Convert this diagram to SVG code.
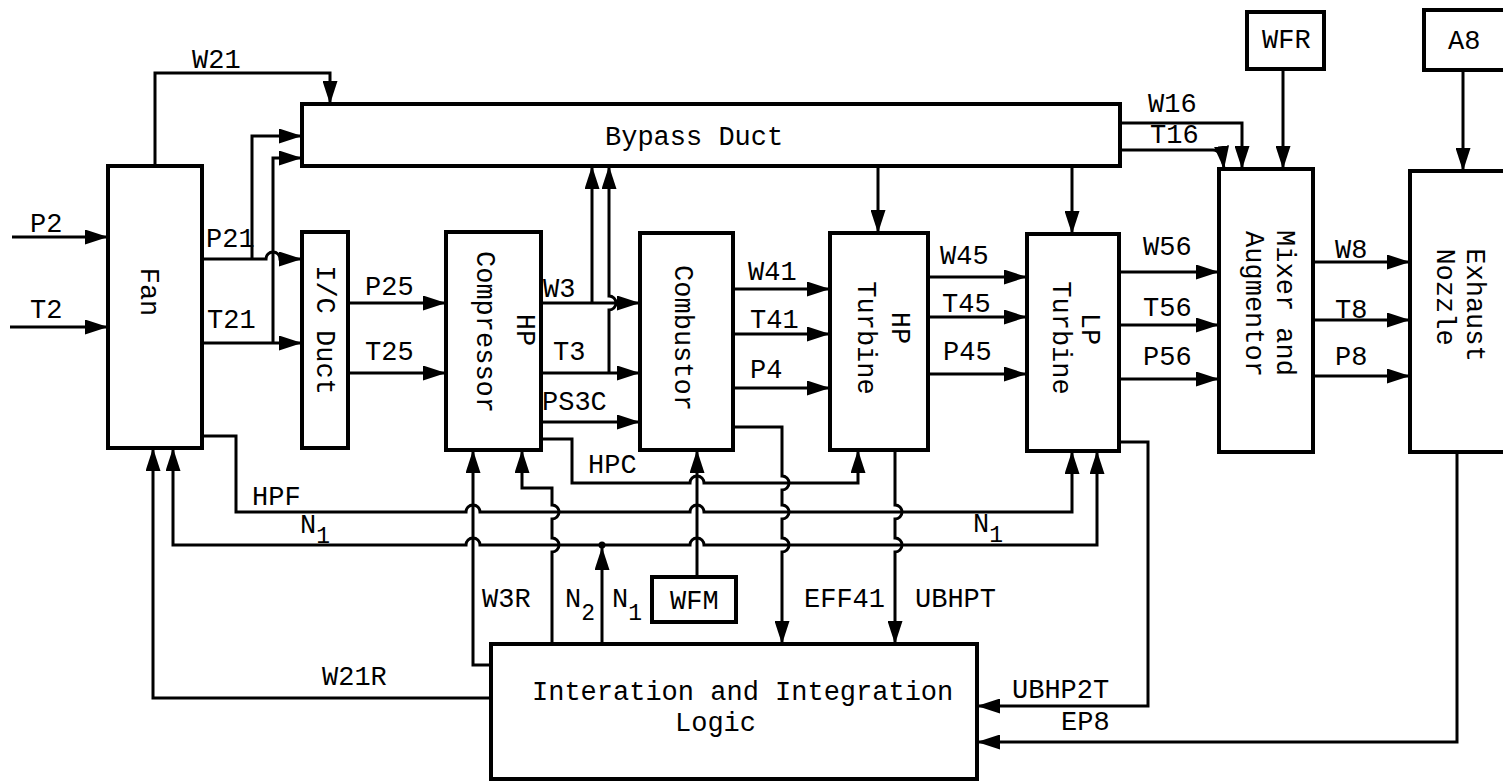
<svg xmlns="http://www.w3.org/2000/svg" width="1503" height="783" viewBox="0 0 1503 783">
<style>
.box{fill:#fff;stroke:#000;stroke-width:4}
.ln{fill:none;stroke:#000;stroke-width:3}
.ar{fill:none;stroke:#000;stroke-width:3;marker-end:url(#ah)}
text{font-family:"Liberation Mono","DejaVu Sans Mono",monospace;font-size:27px;fill:#000}
.sub{font-size:23px}
</style>
<defs>
<marker id="ah" markerUnits="userSpaceOnUse" markerWidth="23" markerHeight="15" refX="23" refY="7.5" orient="auto">
<path d="M0,0 L23,7.5 L0,15 z" fill="#000"/>
</marker>
</defs>
<rect width="1503" height="783" fill="#fff"/>

<g id="connectors">
<path class="ar" d="M12,237 H108"/>
<path class="ar" d="M10,327 H108"/>
<path class="ar" d="M155,166 V73 H330 V104"/>
<path class="ar" d="M202,259 H266 A7,7 0 0 1 280,259 H302"/>
<path class="ar" d="M252,259 V136 H302"/>
<path class="ar" d="M202,343 H302"/>
<path class="ar" d="M273,343 V158 H302"/>
<path class="ar" d="M348,303 H446"/>
<path class="ar" d="M348,373 H446"/>
<path class="ar" d="M541,303 H640"/>
<path class="ar" d="M592,303 V166"/>
<path class="ar" d="M541,373 H640"/>
<path class="ar" d="M609,373 V310 A7,7 0 0 0 609,296 V166"/>
<path class="ar" d="M541,422 H640"/>
<path class="ar" d="M733,289 H830"/>
<path class="ar" d="M733,334 H830"/>
<path class="ar" d="M733,388 H830"/>
<path class="ar" d="M878,166 V233"/>
<path class="ar" d="M1072,166 V234"/>
<path class="ar" d="M928,277 H1027"/>
<path class="ar" d="M928,317 H1027"/>
<path class="ar" d="M928,374 H1027"/>
<path class="ar" d="M1119,272 H1219"/>
<path class="ar" d="M1119,325 H1219"/>
<path class="ar" d="M1119,379 H1219"/>
<path class="ar" d="M1313,262 H1410"/>
<path class="ar" d="M1313,320 H1410"/>
<path class="ar" d="M1313,376 H1410"/>
<path class="ar" d="M1120,123 H1242 V169"/>
<path class="ar" d="M1120,150 H1213 Q1222,150 1224,169"/>
<path class="ar" d="M1283,69 V169"/>
<path class="ar" d="M1463,70 V171"/>
<path class="ar" d="M541,439 H572 V483 H690 A7,7 0 0 1 704,483 H858 V450"/>
<path class="ar" d="M697,577 V450"/>
<path class="ar" d="M202,436 H236 V512 H466 A7,7 0 0 1 480,512 H690 A7,7 0 0 1 704,512 H1072 V451"/>
<path class="ar" d="M602,545 H690 A7,7 0 0 1 704,545 H1097 V451"/>
<path class="ar" d="M602,545 H480 A7,7 0 0 0 466,545 H173 V448"/>
<path class="ar" d="M602,644 V547"/>
<circle cx="602" cy="545" r="3.5" fill="#000"/>
<path class="ar" d="M491,665 H473 V450"/>
<path class="ar" d="M552,644 V552 A7,7 0 0 0 552,538 V519 A7,7 0 0 0 552,505 V488 H522 V450"/>
<path class="ar" d="M733,427 H782 V476 A7,7 0 0 1 782,490 V505 A7,7 0 0 1 782,519 V538 A7,7 0 0 1 782,552 V644"/>
<path class="ar" d="M895,450 V505 A7,7 0 0 1 895,519 V538 A7,7 0 0 1 895,552 V644"/>
<path class="ar" d="M1119,442 H1148 V706 H977"/>
<path class="ar" d="M1457,452 V742 H977"/>
<path class="ar" d="M491,698 H153 V448"/>
</g>

<g id="labels">
<text x="192" y="68">W21</text>
<text x="30" y="232">P2</text>
<text x="30" y="318">T2</text>
<text x="206" y="247">P21</text>
<text x="207" y="328">T21</text>
<text x="365" y="295">P25</text>
<text x="365" y="360">T25</text>
<text x="543" y="297">W3</text>
<text x="553" y="360">T3</text>
<text x="542" y="410">PS3C</text>
<text x="748" y="280">W41</text>
<text x="750" y="328">T41</text>
<text x="750" y="378">P4</text>
<text x="940" y="264">W45</text>
<text x="942" y="312">T45</text>
<text x="943" y="360">P45</text>
<text x="1148" y="112">W16</text>
<text x="1150" y="143">T16</text>
<text x="1143" y="255">W56</text>
<text x="1143" y="316">T56</text>
<text x="1143" y="365">P56</text>
<text x="1335" y="258">W8</text>
<text x="1335" y="318">T8</text>
<text x="1335" y="365">P8</text>
<text x="588" y="473">HPC</text>
<text x="252" y="505">HPF</text>
<text x="300" y="533">N<tspan class="sub" dy="10">1</tspan></text>
<text x="973" y="532">N<tspan class="sub" dy="10">1</tspan></text>
<text x="482" y="607">W3R</text>
<text x="565" y="607">N<tspan class="sub" dy="13">2</tspan></text>
<text x="612" y="607">N<tspan class="sub" dy="13">1</tspan></text>
<text x="804" y="607">EFF41</text>
<text x="915" y="607">UBHPT</text>
<text x="322" y="685">W21R</text>
<text x="1012" y="698">UBHP2T</text>
<text x="1061" y="730">EP8</text>
</g>

<g id="fan"><rect class="box" x="108" y="166" width="94" height="282"/><text transform="translate(141,292) rotate(90)" text-anchor="middle">Fan</text></g>
<g id="bypass"><rect class="box" x="302" y="104" width="818" height="62"/><text x="605" y="145">Bypass Duct</text></g>
<g id="icduct"><rect class="box" x="302" y="232" width="46" height="216"/><text transform="translate(317,330) rotate(90)" text-anchor="middle">I/C Duct</text></g>
<g id="hpc"><rect class="box" x="446" y="232" width="95" height="218"/><text transform="translate(517,330) rotate(90)" text-anchor="middle">HP</text><text transform="translate(477,332) rotate(90)" text-anchor="middle">Compressor</text></g>
<g id="combustor"><rect class="box" x="640" y="233" width="93" height="217"/><text transform="translate(675,338) rotate(90)" text-anchor="middle">Combustor</text></g>
<g id="hpt"><rect class="box" x="830" y="233" width="98" height="217"/><text transform="translate(892,328) rotate(90)" text-anchor="middle">HP</text><text transform="translate(858,338) rotate(90)" text-anchor="middle">Turbine</text></g>
<g id="lpt"><rect class="box" x="1027" y="234" width="92" height="217"/><text transform="translate(1082,329) rotate(90)" text-anchor="middle">LP</text><text transform="translate(1053,338) rotate(90)" text-anchor="middle">Turbine</text></g>
<g id="mixer"><rect class="box" x="1219" y="169" width="94" height="283"/><text transform="translate(1277,303) rotate(90)" text-anchor="middle">Mixer and</text><text transform="translate(1246,304) rotate(90)" text-anchor="middle">Augmentor</text></g>
<g id="nozzle"><rect class="box" x="1410" y="171" width="110" height="281"/><text transform="translate(1467,305) rotate(90)" text-anchor="middle">Exhaust</text><text transform="translate(1437,297) rotate(90)" text-anchor="middle">Nozzle</text></g>
<g id="wfr"><rect class="box" x="1247" y="12" width="77" height="57"/><text x="1262" y="48">WFR</text></g>
<g id="a8"><rect class="box" x="1424" y="10" width="100" height="60"/><text x="1448" y="49">A8</text></g>
<g id="wfm"><rect class="box" x="652" y="577" width="84" height="45"/><text x="670" y="609">WFM</text></g>
<g id="logic"><rect class="box" x="491" y="644" width="486" height="135"/><text x="532" y="700">Interation and Integration</text><text x="675" y="731">Logic</text></g>
</svg>
